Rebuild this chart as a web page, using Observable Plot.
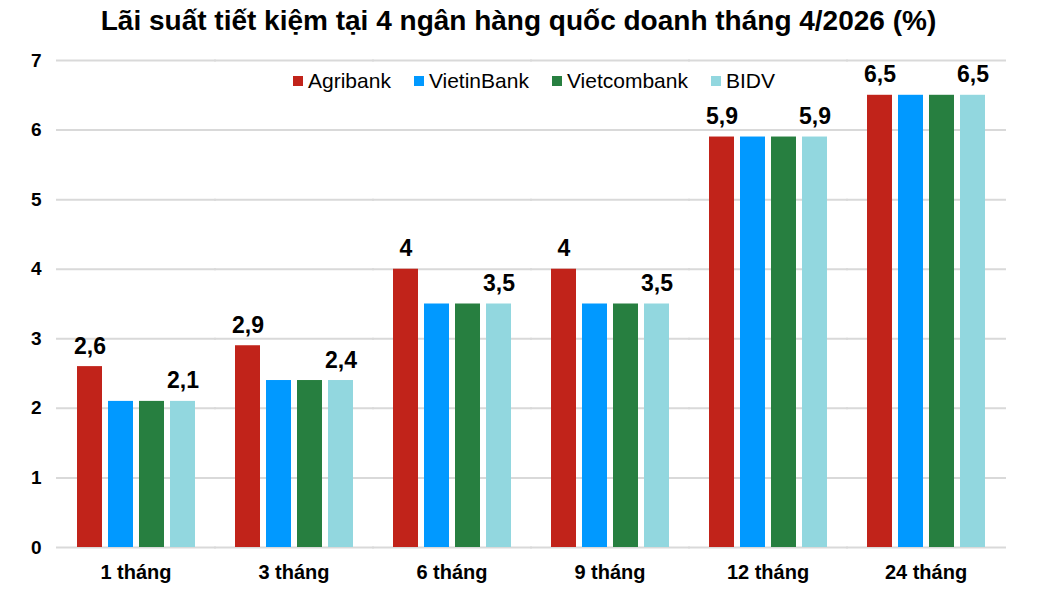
<!DOCTYPE html>
<html>
<head>
<meta charset="utf-8">
<script src="https://cdn.jsdelivr.net/npm/d3@7"></script>
<script src="https://cdn.jsdelivr.net/npm/@observablehq/plot@0.6"></script>
<style>
  body { margin: 0; background: #fff; font-family: Arial, "Liberation Sans", sans-serif; }
  #wrap { position: relative; width: 1037px; height: 592px; }
  #title { position: absolute; top: 5px; left: 0; width: 1037px; text-align: center; font-weight: bold; font-size: 28px; color: #000; }
  #legend { position: absolute; top: 69px; left: 293px; display: flex; align-items: center; font-size: 21px; color: #000; }
  .item { display: flex; align-items: center; margin-right: 23px; }
  .sw { width: 10px; height: 10px; margin-right: 5px; }
</style>
</head>
<body>
<div id="wrap">
  <div id="chart"></div>
  <div id="title">Lãi suất tiết kiệm tại 4 ngân hàng quốc doanh tháng 4/2026 (%)</div>
  <div id="legend"></div>
</div>
<script>
const terms = ["1 tháng", "3 tháng", "6 tháng", "9 tháng", "12 tháng", "24 tháng"];
const banks = ["Agribank", "VietinBank", "Vietcombank", "BIDV"];
const colors = ["#C1231A", "#0199FF", "#277F40", "#92D7DF"];
const agribank = [2.6, 2.9, 4, 4, 5.9, 6.5];
const vietinbank = [2.1, 2.4, 3.5, 3.5, 5.9, 6.5];
const vietcombank = [2.1, 2.4, 3.5, 3.5, 5.9, 6.5];
const bidv = [2.1, 2.4, 3.5, 3.5, 5.9, 6.5];
const labeledBanks = ["Agribank", "BIDV"];
const yTicks = [0, 1, 2, 3, 4, 5, 6, 7];

const series = [agribank, vietinbank, vietcombank, bidv];
const data = [];
terms.forEach((t, i) => banks.forEach((b, j) => data.push({term: t, bank: b, value: series[j][i]})));
const fmt = v => String(v).replace(".", ",");

const chart = Plot.plot({
  width: 1037,
  height: 592,
  marginTop: 60,
  marginBottom: 45,
  marginLeft: 55,
  marginRight: 32,
  style: {fontFamily: "Arial, 'Liberation Sans', sans-serif", background: "#fff"},
  fx: {domain: terms, paddingInner: 0.25, paddingOuter: 0.125, label: null},
  x: {domain: banks, paddingInner: 0.2, paddingOuter: 0, axis: null},
  y: {domain: [0, 7], ticks: yTicks, label: null},
  color: {domain: banks, range: colors},
  marks: [
    Plot.ruleY(yTicks, {stroke: "#d9d9d9", strokeWidth: 2, insetLeft: -20, insetRight: -21}),
    Plot.axisY(yTicks, {tickSize: 0, tickPadding: 35, fontSize: 19, fontWeight: "bold", fill: "#000", label: null, tickFormat: d => d}),
    Plot.axisFx({anchor: "bottom", tickSize: 0, tickPadding: 17, fontSize: 20, fontWeight: "bold", fill: "#000", label: null}),
    Plot.barY(data, {fx: "term", x: "bank", y: "value", fill: "bank"}),
    Plot.text(data.filter(d => labeledBanks.includes(d.bank)), {
      fx: "term", x: "bank", y: "value", text: d => fmt(d.value),
      lineAnchor: "bottom", dy: -13, fontSize: 23, fontWeight: "bold", fill: "#000"
    })
  ]
});
document.getElementById("chart").appendChild(chart);

const legend = document.getElementById("legend");
banks.forEach((b, i) => {
  const it = document.createElement("div");
  it.className = "item";
  const sw = document.createElement("div");
  sw.className = "sw";
  sw.style.background = colors[i];
  const tx = document.createElement("span");
  tx.textContent = b;
  it.appendChild(sw); it.appendChild(tx);
  legend.appendChild(it);
});
</script>
</body>
</html>
